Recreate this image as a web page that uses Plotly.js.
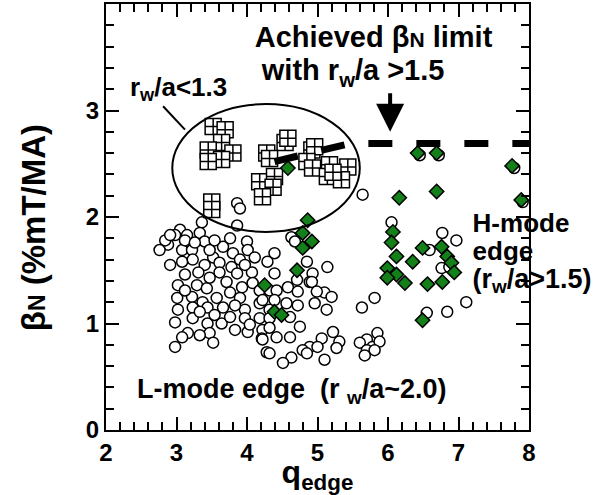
<!DOCTYPE html>
<html>
<head>
<meta charset="utf-8">
<script src="https://cdn.plot.ly/plotly-3.0.1.min.js"></script>
<style>html,body{margin:0;padding:0;background:#fff;}#chart{width:606px;height:495px;}</style>
</head>
<body>
<div id="chart"></div>
<script>
// L-mode edge discharges (open circles)
const lmodeQ = [3.86,3.90,3.36,3.86,3.05,2.98,3.15,3.33,3.40,2.88,3.08,3.22,3.76,3.66,4.00,4.01,2.91,3.08,3.23,3.52,3.61,3.80,3.78,3.02,3.29,3.43,3.61,3.71,3.86,3.93,4.07,4.08,3.01,3.22,3.37,3.57,3.76,3.90,3.02,3.23,3.44,3.66,3.97,4.18,3.23,3.44,3.64,3.76,3.97,4.18,3.16,3.08,3.47,3.52,4.01,4.22,4.21,2.98,4.28,
  2.76,2.84,2.91,3.12,3.26,3.47,3.54,3.40,3.90,3.12,3.31,3.47,3.97,4.11,3.12,4.18,3.83,3.33,3.54,4.04,3.83,2.98,3.33,4.32,4.32,
  4.63,4.68,4.39,4.29,4.85,5.14,4.39,4.93,4.71,4.89,4.58,4.72,4.42,5.10,5.20,4.96,4.22,4.39,4.56,4.72,5.13,4.61,4.32,4.75,4.92,4.99,4.32,4.42,4.61,4.22,5.22,5.06,5.31,4.89,5.00,5.27,4.79,4.32,4.63,4.51,5.10,4.85,
  5.81,5.63,5.85,5.70,5.60,5.78,5.88,5.70,5.81,5.67,5.64,
  6.05,6.77,6.97,6.59,6.76,6.87,6.55,6.84,7.11,6.45,6.72,7.79,7.91];
const lmodeBeta = [2.13,2.08,1.95,1.92,1.88,1.83,1.83,1.85,1.77,1.74,1.69,1.69,1.80,1.72,1.77,1.69,1.55,1.58,1.60,1.62,1.57,1.66,1.53,1.36,1.36,1.33,1.48,1.39,1.47,1.34,1.48,1.38,1.24,1.25,1.20,1.24,1.29,1.24,1.13,1.15,1.15,1.15,1.13,1.19,1.05,1.00,1.00,1.06,1.05,1.05,0.91,0.87,0.91,0.82,0.92,0.94,0.86,0.78,0.73,
  1.69,1.78,1.83,1.78,1.76,1.69,1.78,1.55,1.60,1.46,1.48,1.43,1.55,1.62,1.31,1.31,1.17,1.11,1.08,0.99,0.94,1.01,0.89,1.13,1.31,
  1.81,1.77,1.66,1.58,1.58,1.53,1.47,1.47,1.41,1.39,1.34,1.30,1.31,1.29,1.25,1.19,1.22,1.22,1.19,1.17,1.13,1.06,1.05,0.97,1.39,1.30,0.96,0.87,0.87,0.85,0.92,0.86,0.83,0.78,0.78,0.77,0.75,0.72,0.68,0.63,0.66,0.72,
  1.24,1.15,0.91,0.85,0.82,0.78,0.83,0.75,0.75,0.70,2.21,
  1.95,1.85,1.78,1.69,1.52,1.53,1.10,1.11,1.20,2.58,2.58,2.46,2.14];

// close-wall discharges rw/a<1.3 (crossed squares)
const closeWallQ = [3.52,3.69,3.64,3.45,3.80,3.64,3.45,3.50,3.50,4.54,4.58,4.28,4.32,4.18,4.39,4.37,4.22,4.92,4.96,4.85,4.93,5.17,5.43,5.14,5.34,5.22];
const closeWallBeta = [2.85,2.82,2.70,2.63,2.60,2.54,2.52,2.14,2.07,2.70,2.74,2.60,2.55,2.33,2.38,2.28,2.19,2.63,2.66,2.52,2.46,2.49,2.47,2.38,2.35,2.42];

// H-mode edge discharges (green diamonds)
const hmodeQ = [4.58,4.86,4.79,4.92,4.79,4.71,4.25,4.39,4.49,6.42,6.69,7.76,6.16,6.69,7.89,6.07,6.05,6.12,6.49,6.35,6.76,6.84,6.90,6.94,6.77,6.56,5.99,6.12,5.99,6.24,6.49];
const hmodeBeta = [2.46,1.97,1.85,1.77,1.71,1.50,1.36,1.11,1.08,2.60,2.60,2.48,2.18,2.24,2.16,1.86,1.76,1.63,1.71,1.58,1.72,1.63,1.57,1.48,1.39,1.37,1.52,1.46,1.43,1.38,1.03];

// achieved beta_N limit with rw/a > 1.5 (thick dashed line)
const limitQ = [4.39, 5.46, 8.0];
const limitBeta = [2.52, 2.69, 2.69];

// pointer from the "rw/a<1.3" label to the ellipse
const pointerQ = [2.81, 3.12];
const pointerBeta = [3.04, 2.82];

// text labels placed in data coordinates
const labelText = [
  'Achieved \u03b2<span style="font-size:21px">N</span> limit',
  'with r<sub>w</sub>/a &gt;1.5',
  'r<sub>w</sub>/a&lt;1.3',
  'H-mode',
  'edge',
  '(r<sub>w</sub>/a&gt;1.5)',
  'L-mode edge  (r <sub>w</sub>/a~2.0)',
  '4'
];
const labelQ = [4.11, 4.21, 2.34, 7.20, 7.20, 7.20, 2.44, 1.71];
const labelBeta = [3.66, 3.35, 3.20, 1.92, 1.66, 1.40, 0.36, 3.86];
const labelSize = [29, 29, 26, 26, 26, 27, 27, 24];
const labelPos = ['middle right','middle right','middle right','middle right','middle right','middle right','middle right','middle left'];

const xTicks = [2,3,4,5,6,7,8];
const xTickText = ['2','3','4','5','6','7','8'];
const yTicks = [0,1,2,3];
const yTickText = ['0','1','2','3'];

const FONT = 'Liberation Sans, Arial, Helvetica, sans-serif';

const traces = [
  {x: lmodeQ, y: lmodeBeta, type: 'scatter', mode: 'markers',
   marker: {symbol: 'circle', size: 11, color: '#ffffff', line: {color: '#000000', width: 1.5}}},
  {x: closeWallQ, y: closeWallBeta, type: 'scatter', mode: 'markers',
   marker: {symbol: 'square-cross', size: 16, color: '#ffffff', line: {color: '#000000', width: 1.5}}},
  {x: hmodeQ, y: hmodeBeta, type: 'scatter', mode: 'markers',
   marker: {symbol: 'diamond', size: 11, color: '#13801a', line: {color: '#000000', width: 1.5}}},
  {x: limitQ, y: limitBeta, type: 'scatter', mode: 'lines',
   line: {color: '#000000', width: 7, dash: '24px,24px'}},
  {x: pointerQ, y: pointerBeta, type: 'scatter', mode: 'lines',
   line: {color: '#000000', width: 2}},
  {x: labelQ, y: labelBeta, type: 'scatter', mode: 'text', text: labelText,
   textposition: labelPos, cliponaxis: false, hoverinfo: 'skip',
   textfont: {family: FONT, size: labelSize, color: '#000000', weight: 'bold'}}
];

function axisCommon(range, ticks, text) {
  return {
    range: range, tickmode: 'array', tickvals: ticks, ticktext: text.map(t => '<b>' + t + '</b>'),
    ticks: 'inside', ticklen: 13, tickwidth: 2, tickcolor: '#000000',
    showline: true, linewidth: 2, linecolor: '#000000', mirror: 'ticks',
    showgrid: false, zeroline: false,
    minor: {dtick: 0.2, ticks: 'inside', ticklen: 8, tickwidth: 1.5, tickcolor: '#000000'},
    tickfont: {family: FONT, size: 24, color: '#000000'}
  };
}

const xa = axisCommon([2, 8], xTicks, xTickText);
xa.title = {text: '<b>q<sub>edge</sub></b>', font: {family: FONT, size: 32, color: '#000000'}, standoff: 5};
const ya = axisCommon([0, 4], yTicks, yTickText);

const annFont = (s) => ({family: FONT, size: s, color: '#000000', weight: 'bold'});

const layout = {
  width: 606, height: 495,
  margin: {l: 106, r: 77, t: 4, b: 65},
  paper_bgcolor: '#ffffff', plot_bgcolor: '#ffffff',
  showlegend: false,
  xaxis: xa, yaxis: ya,
  shapes: [
    {type: 'circle', xref: 'x', yref: 'y', x0: 2.94, x1: 5.60, y0: 1.86, y1: 3.06,
     line: {color: '#000000', width: 2}, layer: 'above'}
  ],
  annotations: [
    {xref: 'paper', yref: 'paper', x: -0.1726, y: 0.476, textangle: -90, showarrow: false,
     xanchor: 'center', yanchor: 'middle',
     text: '\u03b2<span style="font-size:23px">N</span> (%mT/MA)', font: annFont(33)},
    {xref: 'x', yref: 'y', x: 6.03, y: 2.80, ax: 0, ay: -40, showarrow: true,
     arrowhead: 2, arrowwidth: 4, arrowsize: 1.4, arrowcolor: '#000000', text: ''}
  ]
};

Plotly.newPlot('chart', traces, layout, {displayModeBar: false});
</script>
</body>
</html>
